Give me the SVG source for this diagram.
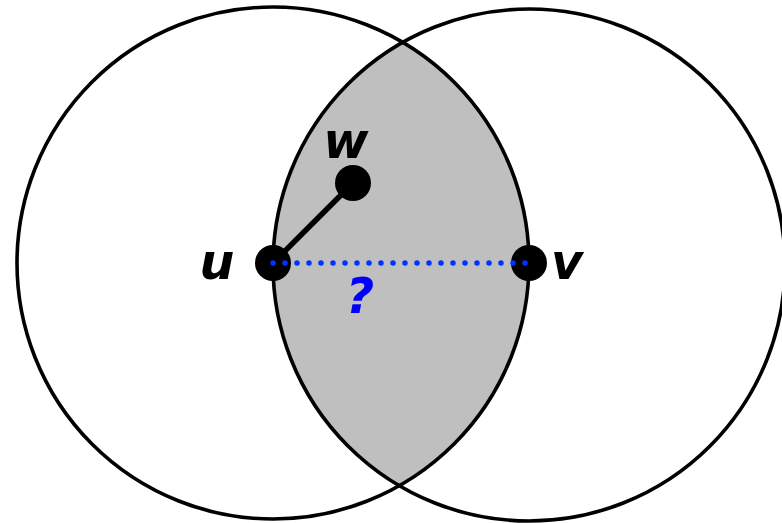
<svg xmlns="http://www.w3.org/2000/svg" width="782" height="523" viewBox="0 0 782 523">
<style>
.ring{fill:none;stroke:#000;stroke-width:3.6}
.node{fill:#000}
.lbl{font-family:"DejaVu Sans",sans-serif;font-weight:bold;font-style:italic;font-size:49px;text-anchor:middle}
</style>
<defs>
<clipPath id="clipL"><circle cx="273" cy="263" r="256"/></clipPath>
</defs>
<rect width="782" height="523" fill="#fff"/>
<g id="lens">
<circle cx="529" cy="265" r="256" fill="#bfbfbf" clip-path="url(#clipL)"/>
</g>
<g id="circles">
<circle class="ring" cx="273" cy="263" r="256"/>
<circle class="ring" cx="529" cy="265" r="256"/>
</g>
<g id="node-u"><circle class="node" cx="273" cy="263" r="18"/><text class="lbl" x="217" y="279">u</text></g>
<g id="node-w"><circle class="node" cx="353" cy="183" r="18"/><text class="lbl" x="346" y="158">w</text></g>
<g id="node-v"><circle class="node" cx="529" cy="263" r="18"/><text class="lbl" x="567" y="279">v</text></g>
<g id="label-q"><text class="lbl" x="360" y="313" fill="#0000ff">?</text></g>
<g id="connectors">
<line x1="273" y1="263" x2="353" y2="183" stroke="#000" stroke-width="5.5"/>
<line x1="273" y1="263" x2="529" y2="263" stroke="#0033ff" stroke-width="5.5" stroke-linecap="round" stroke-dasharray="0 12"/>
</g>
</svg>
